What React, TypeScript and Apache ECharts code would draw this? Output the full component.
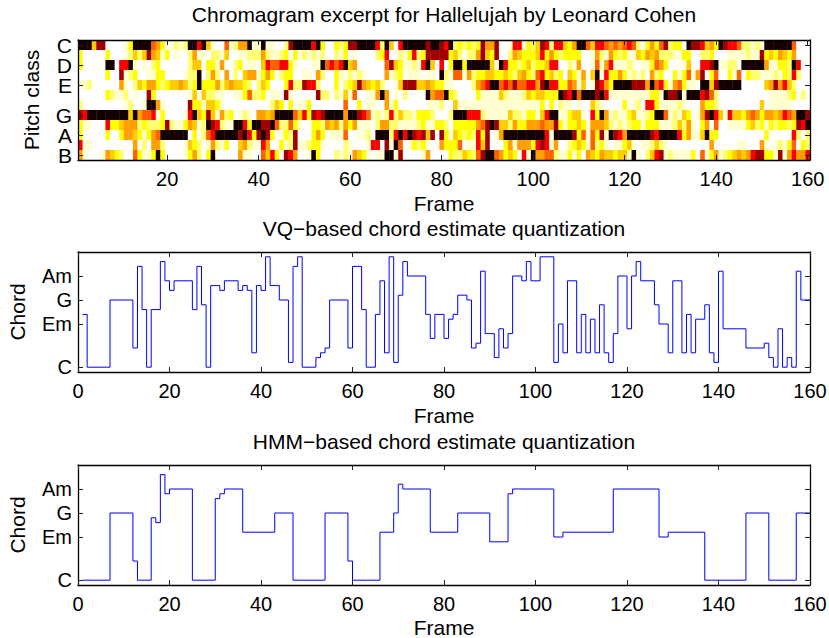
import React, { useEffect, useRef } from "react";
import * as echarts from "echarts";

const FONT = "Liberation Sans";

const pitchTicks = [1, 3, 5, 8, 10, 12];
const pitchLabels = ["C", "D", "E", "G", "A", "B"];
const chordTicks = [1, 10, 15, 20];
const chordLabels = ["C", "Em", "G", "Am"];
const frameTicksTop = [20, 40, 60, 80, 100, 120, 140, 160];
const frameTicksBottom = [0, 20, 40, 60, 80, 100, 120, 140, 160];

// Reversed "hot" colour levels, white to black
const hotLevels = ["#ffffff", "#ffffd0", "#ffff70", "#ffff00", "#ffcc00", "#ffa000", "#ff6000", "#ff0000", "#a00000", "#140000"];

// One digit per frame (1..160), level index into hotLevels
const rowC = "9994880000" + "1399996530" + "1212997941" + "0061255911" + "9110028999" + "9793003238" + "8999972940" + "7999998998" + "7923232385" + "5800177132" + "4872774359" + "9647765656" + "7620353682" + "3309887453" + "9877622121" + "9999996000";
const rowCs = "3000003000" + "1242485413" + "0100251102" + "2140011222" + "5211230312" + "1212002130" + "1000023700" + "2137238888" + "8342022584" + "3800254333" + "4735323333" + "0015215323" + "1143545222" + "1133002230" + "0011112118" + "3435435000";
const rowD = "3000009907" + "7910102300" + "0000244033" + "1500230110" + "4766773100" + "0119676794" + "5000000684" + "3112179407" + "0399399999" + "4197332342" + "3347700215" + "0016157111" + "2101136530" + "0014007789" + "1122099999" + "5113329700";
const rowDs = "0000003008" + "1230011330" + "0001229025" + "2050204551" + "3530233001" + "1052003112" + "1210000512" + "3011101109" + "2166152334" + "4334324532" + "6734230431" + "5049173353" + "1212052300" + "3136158036" + "0031603221" + "1121327200";
const rowE = "1120000005" + "1024355323" + "4454239333" + "5245443202" + "4300037228" + "7720003023" + "4854342001" + "4888445433" + "1100002567" + "9967686677" + "5897733651" + "4018753999" + "9888596731" + "5631109948" + "9999900000" + "4585742000";
const rowF = "0000003211" + "2010083000" + "0000140422" + "1100113622" + "3011081000" + "0082202141" + "6001159501" + "0200009566" + "9320000311" + "1142111243" + "4433398796" + "9998971111" + "1111133198" + "8919997862" + "0000000000" + "0111123020";
const rowFs = "2000000000" + "1200199510" + "0000833144" + "3100000000" + "0024303011" + "3000000060" + "0301100513" + "0000001112" + "0041111111" + "1111111111" + "1303021101" + "0042100003" + "0120773111" + "1210005332" + "0000000004" + "0111110000";
const rowG = "8799999999" + "9495667130" + "0001794384" + "1523012105" + "5459999647" + "3878999959" + "9876121272" + "4221333200" + "0299977721" + "1111422133" + "1479911344" + "1073951211" + "3411239961" + "2143015897" + "4174435653" + "5545765998";
const rowGs = "3110007334" + "5552322238" + "2113541298" + "7211997399" + "8896226310" + "0332545253" + "5111025522" + "1111231133" + "2033333568" + "9844253355" + "5655831334" + "3155542121" + "2331333111" + "2425103506" + "0011113423" + "1323323879";
const rowA = "3000003003" + "5543135699" + "9999030267" + "9999989738" + "9830132800" + "0353011160" + "0112099927" + "9798784808" + "3143232738" + "0159999999" + "9971999983" + "6163819875" + "9999987999" + "9735114933" + "0000000000" + "3000007202";
const rowAs = "7110000000" + "0050205520" + "0001432015" + "2130045211" + "7500312811" + "2331000021" + "0001770819" + "6013231005" + "3336011748" + "0003515553" + "7871500234" + "3162310113" + "4101124210" + "0000000050" + "0000110005" + "1012136032";
const rowB = "5100015432" + "0063113930" + "0001352039" + "0000051100" + "6473087500" + "1930002121" + "5431011991" + "8000015000" + "0322432689" + "9653430719" + "5566211313" + "0543544344" + "1910247812" + "1111306135" + "1234545788" + "3318157557";
const chromaRows = [rowC, rowCs, rowD, rowDs, rowE, rowF, rowFs, rowG, rowGs, rowA, rowAs, rowB];

const vqFrames = [1, 2, 7, 12, 13, 14, 15, 16, 18, 19, 20, 21, 25, 26, 27, 28, 29, 31, 32, 35, 36, 37, 38, 39, 40, 41, 42, 44, 46, 47, 48, 49, 52, 53, 54, 55, 59, 60, 62, 63, 65, 66, 67, 68, 69, 70, 71, 72, 76, 77, 78, 80, 81, 82, 83, 85, 86, 87, 88, 89, 91, 92, 93, 94, 95, 97, 98, 99, 101, 104, 105, 106, 107, 109, 110, 111, 112, 113, 114, 115, 116, 117, 118, 120, 121, 122, 123, 126, 127, 129, 130, 132, 133, 134, 135, 137, 138, 139, 140, 141, 146, 150, 151, 152, 153, 154, 155, 156, 157, 158, 160];
const vqChords = [12, 1, 15, 5, 22, 13, 1, 13, 23, 19, 17, 19, 13, 22, 14, 1, 18, 17, 19, 17, 18, 17, 4, 18, 17, 24, 18, 15, 2, 22, 24, 1, 3, 4, 5, 15, 5, 22, 13, 1, 12, 19, 4, 24, 2, 16, 23, 20, 12, 7, 12, 7, 11, 12, 16, 15, 5, 6, 21, 8, 3, 9, 5, 8, 20, 19, 23, 19, 24, 2, 10, 4, 19, 4, 12, 4, 11, 4, 14, 4, 2, 8, 20, 9, 20, 23, 19, 14, 10, 4, 19, 4, 12, 4, 11, 14, 4, 2, 21, 9, 5, 6, 3, 1, 9, 1, 3, 1, 21, 15, 15];

const hmmFrames = [1, 7, 12, 13, 16, 17, 18, 19, 20, 25, 30, 31, 32, 36, 43, 47, 54, 59, 60, 66, 69, 70, 71, 77, 83, 90, 94, 95, 104, 106, 117, 127, 129, 137, 146, 151, 157, 160];
const hmmChords = [1, 15, 5, 1, 14, 13, 23, 19, 20, 1, 18, 19, 20, 11, 15, 1, 15, 5, 1, 11, 15, 21, 20, 11, 15, 9, 19, 20, 10, 11, 20, 10, 11, 1, 15, 1, 15, 15];

const titles = [
  "Chromagram excerpt for Hallelujah by Leonard Cohen",
  "VQ\u2212based chord estimate quantization",
  "HMM\u2212based chord estimate quantization",
];

const heatData: number[][] = [];
chromaRows.forEach((row, r) => {
  for (let c = 0; c < row.length; c++) heatData.push([c + 1, r + 1, Number(row[c])]);
});

const W = 829;
const H = 638;
const LEFT = 78;
const RIGHT = 19;
const GRID_H = 120;
const gridTops = [40, 252, 465];
const titleTops = [4, 218, 431];
const AXIS_COLOR = "#000000";

function xAxes(gridIndex: number, min: number, max: number, ticks: number[], nameGap: number) {
  const line = { show: true, onZero: false, lineStyle: { color: AXIS_COLOR, width: 1.3 } };
  const tick = { show: true, inside: true, length: 5, customValues: ticks, lineStyle: { color: "#222222", width: 1 } };
  return [
    {
      type: "value", gridIndex, position: "bottom", min, max, z: 10,
      axisLine: line, axisTick: tick, splitLine: { show: false },
      axisLabel: { show: true, customValues: ticks, margin: 9, color: "#000", fontFamily: FONT, fontSize: 20, hideOverlap: false, showMinLabel: true, showMaxLabel: true },
      name: "Frame", nameLocation: "middle", nameGap,
      nameTextStyle: { color: "#000", fontFamily: FONT, fontSize: 21 },
    },
    {
      type: "value", gridIndex, position: "top", min, max, z: 10,
      axisLine: line, axisTick: tick, splitLine: { show: false }, axisLabel: { show: false },
    },
  ];
}

function labelOptions(labelTicks: number[], ticks: number[], labels: string[], labelSize: number) {
  return {
    show: true, customValues: labelTicks, margin: 6, color: "#000", fontFamily: FONT, fontSize: labelSize,
    hideOverlap: false, showMinLabel: true, showMaxLabel: true,
    formatter: (v: number) => labels[ticks.indexOf(v)] ?? "",
  };
}

function yAxes(gridIndex: number, min: number, max: number, inverse: boolean, ticks: number[], labelTicks: number[], labels: string[], name: string, nameGap: number, labelSize: number) {
  const line = { show: true, onZero: false, lineStyle: { color: AXIS_COLOR, width: 1.3 } };
  const tick = { show: true, inside: true, length: 5, customValues: ticks, lineStyle: { color: "#222222", width: 1 } };
  return [
    {
      type: "value", gridIndex, position: "left", min, max, inverse, z: 10,
      axisLine: line, axisTick: tick, splitLine: { show: false },
      axisLabel: labelOptions(labelTicks, ticks, labels, labelSize),
      name, nameLocation: "middle", nameGap, nameRotate: 90,
      nameTextStyle: { color: "#000", fontFamily: FONT, fontSize: 21 },
    },
    {
      type: "value", gridIndex, position: "right", min, max, inverse, z: 10,
      axisLine: line, axisTick: tick, splitLine: { show: false }, axisLabel: { show: false },
    },
  ];
}

function stairSeries(xAxisIndex: number, yAxisIndex: number, frames: number[], chords: number[]) {
  return {
    type: "line", xAxisIndex, yAxisIndex, step: "end", showSymbol: false, symbol: "none",
    lineStyle: { color: "#0000ff", width: 1 }, z: 3, silent: true,
    data: frames.map((f, i) => [f, chords[i]]),
  };
}

export default function App() {
  const ref = useRef<HTMLDivElement>(null);
  useEffect(() => {
    document.body.style.margin = "0";
    const chart = echarts.init(ref.current!, undefined, { renderer: "svg", width: W, height: H });
    chart.setOption({
      animation: false,
      backgroundColor: "#ffffff",
      title: titles.map((text, i) => ({
        text, left: LEFT + (W - LEFT - RIGHT) / 2, top: titleTops[i], textAlign: "center", padding: 0,
        textStyle: { color: "#000", fontFamily: FONT, fontSize: 21, fontWeight: "normal" },
      })),
      grid: gridTops.map((top) => ({ left: LEFT, right: RIGHT, top, height: GRID_H, containLabel: false, outerBoundsMode: "none" })),
      xAxis: [
        ...xAxes(0, 0.5, 160.5, frameTicksTop, 33),
        ...xAxes(1, 0, 160, frameTicksBottom, 33),
        ...xAxes(2, 0, 160, frameTicksBottom, 32),
      ],
      yAxis: [
        ...yAxes(0, 0.5, 12.5, true, pitchTicks, [1, 5, 8, 12], pitchLabels, "Pitch class", 36, 21),
        ...yAxes(1, 0, 25, false, chordTicks, chordTicks, chordLabels, "Chord", 50, 20),
        ...yAxes(2, 0, 25, false, chordTicks, chordTicks, chordLabels, "Chord", 50, 20),
        // The labels D and A sit on an axis of their own, so that ECharts does not hide them beside C and B
        {
          type: "value", gridIndex: 0, position: "left", min: 0.5, max: 12.5, inverse: true, z: 10,
          axisLine: { show: false, onZero: false }, axisTick: { show: false }, splitLine: { show: false },
          axisLabel: labelOptions([3, 10], pitchTicks, pitchLabels, 21),
        },
      ],
      series: [
        {
          type: "custom", xAxisIndex: 0, yAxisIndex: 0, silent: true, z: 1,
          encode: { x: 0, y: 1 },
          data: heatData,
          renderItem: (_p: any, api: any) => {
            const a = api.coord([api.value(0) - 0.5, api.value(1) - 0.5]);
            const b = api.coord([api.value(0) + 0.5, api.value(1) + 0.5]);
            return {
              type: "rect",
              shape: { x: a[0], y: a[1], width: b[0] - a[0] + 0.4, height: b[1] - a[1] + 0.4 },
              style: { fill: hotLevels[api.value(2)] },
            };
          },
        },
        stairSeries(2, 2, vqFrames, vqChords),
        stairSeries(4, 4, hmmFrames, hmmChords),
      ],
    });
    return () => chart.dispose();
  }, []);
  return <div ref={ref} style={{ position: "absolute", left: 0, top: 0, width: W, height: H }} />;
}
